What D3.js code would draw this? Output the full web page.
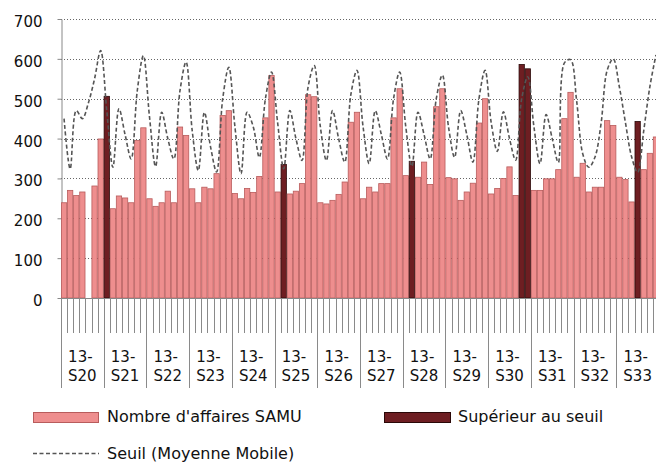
<!DOCTYPE html>
<html><head><meta charset="utf-8">
<script src="https://cdn.jsdelivr.net/npm/d3@7"></script>
<style>html,body{margin:0;padding:0;background:#fff;} svg{display:block;font-family:"DejaVu Sans",Verdana,sans-serif;}</style>
</head><body><svg id="c" width="656" height="463"></svg>
<script>
// ---- Data ----
const semaines = ["13-S20","13-S21","13-S22","13-S23","13-S24","13-S25","13-S26",
                  "13-S27","13-S28","13-S29","13-S30","13-S31","13-S32","13-S33"];
// Nombre d'affaires SAMU (one value per day, Mon..Sun for each week)
const affaires = [
  239, 270, 257, 266, null, 281, 399,   // S20
  506, 224, 256, 251, 239, 395, 427,    // S21
  249, 230, 239, 268, 239, 429, 408,    // S22
  274, 239, 278, 274, 312, 458, 470,    // S23
  262, 249, 275, 265, 305, 452, 558,    // S24
  266, 335, 261, 268, 287, 510, 505,    // S25
  239, 236, 245, 260, 291, 441, 466,    // S26
  249, 278, 266, 287, 287, 452, 525,    // S27
  307, 343, 303, 341, 285, 480, 525,    // S28
  302, 299, 245, 266, 288, 439, 500,    // S29
  261, 275, 300, 329, 257, 586, 575,    // S30
  270, 270, 299, 299, 322, 450, 516,    // S31
  303, 338, 266, 278, 278, 445, 433,    // S32
  303, 297, 241, 443, 322, 363, 404     // S33
];
// Seuil (Moyenne Mobile)
const seuil = [
  450, 324, 470, 450, 490, 550, 621,    // S20
  470, 328, 475, 410, 349, 520, 608,    // S21
  455, 330, 466, 400, 349, 520, 592,    // S22
  420, 320, 466, 380, 316, 500, 579,    // S23
  430, 312, 466, 430, 353, 500, 567,    // S24
  440, 324, 470, 400, 345, 530, 583,    // S25
  430, 345, 470, 400, 341, 510, 571,    // S26
  430, 337, 470, 410, 349, 500, 567,    // S27
  430, 330, 466, 410, 349, 500, 559,    // S28
  430, 353, 470, 410, 341, 500, 571,    // S29
  440, 368, 467, 400, 346, 500, 555,    // S30
  430, 337, 460, 400, 340, 590, 598,    // S31
  495, 362, 328, 353, 437, 571, 600,    // S32
  530, 440, 355, 315, 420, 530, 610     // S33
];
// Days (index) where the count is above the threshold
const joursDepassement = [7, 36, 57, 75, 76, 94];
const graduations = [0, 100, 200, 300, 400, 500, 600, 700];
const legendeLabels = ["Nombre d'affaires SAMU", "Supérieur au seuil", "Seuil (Moyenne Mobile)"];

// ---- Styles ----
const COL_BAR = "#ee8e8e", COL_BAR_STROKE = "#b85c5c";
const COL_DARK = "#6e1e22", COL_DARK_STROKE = "#2a0808";
const COL_LINE = "#555555";

const jours = semaines.flatMap(s => d3.range(7).map(d => s + "-" + (d + 1)));
const svg = d3.select("#c");
svg.append("rect").attr("width", 656).attr("height", 463).attr("fill", "#fff");

const x = d3.scaleBand().domain(jours).range([61, 659]).padding(0);
const xs = d3.scaleBand().domain(semaines).range([61, 659]).padding(0);
const y = d3.scaleLinear().domain([0, 700]).range([298, 19]);
const bw = x.bandwidth();

// Gridlines
svg.append("g").selectAll("line").data(graduations.filter(v => v > 0)).join("line")
  .attr("x1", 61).attr("x2", 656)
  .attr("y1", d => Math.round(y(d)) + 0.5).attr("y2", d => Math.round(y(d)) + 0.5)
  .attr("stroke", "#666").attr("stroke-width", 1).attr("stroke-dasharray", "1,2");

// Y axis
const yAxis = svg.append("g").attr("transform", "translate(61.5,0)")
  .call(d3.axisLeft(y).tickValues(graduations).tickSize(4).tickSizeOuter(0).tickPadding(15));
yAxis.select(".domain").attr("stroke", "#888");
yAxis.selectAll(".tick line").attr("stroke", "#888");
yAxis.selectAll(".tick text").attr("font-size", 15).attr("fill", "#111")
  .attr("font-family", "DejaVu Sans, sans-serif").attr("dy", "0.5em");

// Bars
svg.append("g").selectAll("rect")
  .data(affaires.map((v, i) => ({v, i})).filter(d => d.v != null)).join("rect")
  .attr("x", d => x(jours[d.i]) + 0.4)
  .attr("width", bw - 0.8)
  .attr("y", d => y(d.v))
  .attr("height", d => y(0) - y(d.v))
  .attr("fill", d => joursDepassement.includes(d.i) ? COL_DARK : COL_BAR)
  .attr("stroke", d => joursDepassement.includes(d.i) ? COL_DARK_STROKE : COL_BAR_STROKE)
  .attr("stroke-width", 0.8);

// X axis base line and ticks
svg.append("line").attr("x1", 61).attr("x2", 656).attr("y1", 298.5).attr("y2", 298.5)
  .attr("stroke", "#888");
const dayEdges = jours.map(j => x(j)).concat([x.range()[1]]);
svg.append("g").selectAll("line").data(dayEdges).join("line")
  .attr("x1", d => Math.round(d) + 0.5).attr("x2", d => Math.round(d) + 0.5)
  .attr("y1", 298).attr("y2", 333).attr("stroke", "#8a8a8a");
const weekEdges = semaines.map(s => xs(s)).concat([xs.range()[1]]);
svg.append("g").selectAll("line").data(weekEdges).join("line")
  .attr("x1", d => Math.round(d) + 0.5).attr("x2", d => Math.round(d) + 0.5)
  .attr("y1", 298).attr("y2", 388).attr("stroke", "#8a8a8a");

// Week labels
const wl = svg.append("g").selectAll("text").data(semaines).join("text")
  .attr("text-anchor", "middle").attr("font-size", 15).attr("fill", "#111");
wl.append("tspan").attr("x", d => xs(d) + xs.bandwidth() / 2 - 2).attr("y", 362)
  .text(d => d.split("-")[0] + "-");
wl.append("tspan").attr("x", d => xs(d) + xs.bandwidth() / 2).attr("y", 381)
  .text(d => d.split("-")[1]);

// Threshold line
const line = d3.line()
  .x((d, i) => x(jours[i]) + bw / 2)
  .y(d => y(d))
  .curve(d3.curveCatmullRom.alpha(0.5));
svg.append("path").attr("d", line(seuil))
  .attr("fill", "none").attr("stroke", COL_LINE).attr("stroke-width", 1.6)
  .attr("stroke-dasharray", "4,2.5");

// Legend
const lg = svg.append("g").attr("font-size", 16).attr("fill", "#111");
lg.append("rect").attr("x", 33.5).attr("y", 412.5).attr("width", 65).attr("height", 10)
  .attr("fill", COL_BAR).attr("stroke", COL_BAR_STROKE);
lg.append("text").attr("x", 107).attr("y", 422).text(legendeLabels[0]);
lg.append("rect").attr("x", 384.5).attr("y", 412.5).attr("width", 66).attr("height", 10)
  .attr("fill", COL_DARK).attr("stroke", COL_DARK_STROKE);
lg.append("text").attr("x", 458).attr("y", 422).text(legendeLabels[1]);
lg.append("line").attr("x1", 33).attr("x2", 99).attr("y1", 453.5).attr("y2", 453.5)
  .attr("stroke", COL_LINE).attr("stroke-width", 1.4).attr("stroke-dasharray", "4,2.5");
lg.append("text").attr("x", 107).attr("y", 458.5).text(legendeLabels[2]);
</script></body></html>
